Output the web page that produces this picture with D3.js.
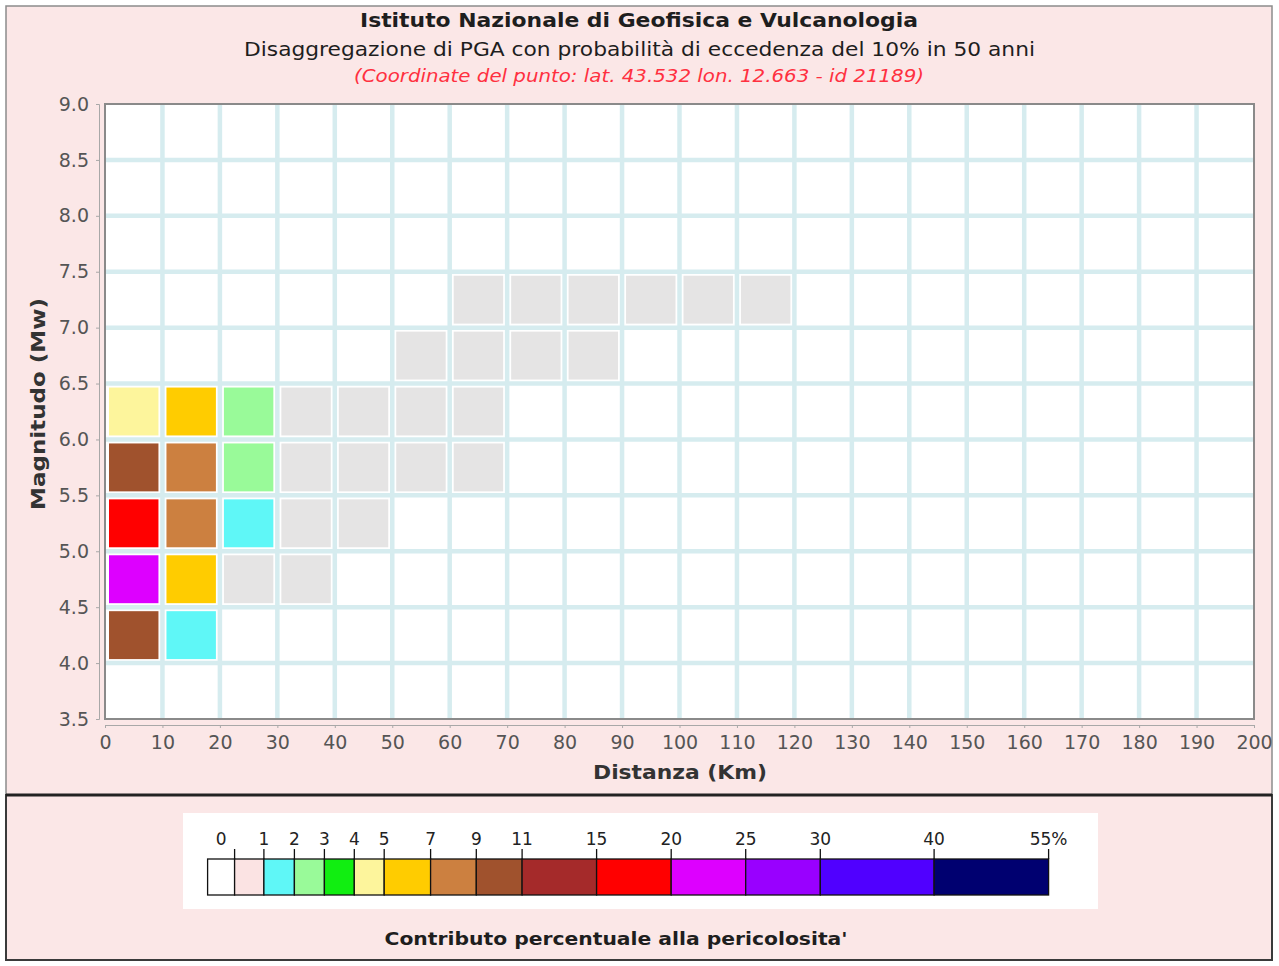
<!DOCTYPE html>
<html>
<head>
<meta charset="utf-8">
<script src="https://cdn.jsdelivr.net/npm/d3@7"></script>
<style>
  html, body { margin: 0; padding: 0; background: #ffffff; }
  svg { display: block; }
  text { font-family: "DejaVu Sans", sans-serif; }
</style>
</head>
<body>
<div id="chart"></div>
<script>
// Distance bins (lower edge, km) and magnitude bins (lower edge, Mw)
const distBins = [0, 10, 20, 30, 40, 50, 60, 70, 80, 90, 100, 110, 120, 130, 140, 150, 160, 170, 180, 190];
const magBins = [3.5, 4.0, 4.5, 5.0, 5.5, 6.0, 6.5, 7.0, 7.5, 8.0, 8.5];

// Percentage contribution to hazard, one row per magnitude bin, one value per distance bin
const contributions = [
  [0, 0, 0, 0, 0, 0, 0, 0, 0, 0, 0, 0, 0, 0, 0, 0, 0, 0, 0, 0],            // 3.5-4.0
  [9.4, 1.3, 0, 0, 0, 0, 0, 0, 0, 0, 0, 0, 0, 0, 0, 0, 0, 0, 0, 0],        // 4.0-4.5
  [21.0, 5.6, 0.6, 0.3, 0, 0, 0, 0, 0, 0, 0, 0, 0, 0, 0, 0, 0, 0, 0, 0],   // 4.5-5.0
  [16.0, 7.6, 1.3, 0.5, 0.3, 0, 0, 0, 0, 0, 0, 0, 0, 0, 0, 0, 0, 0, 0, 0], // 5.0-5.5
  [9.6, 7.3, 2.4, 0.7, 0.5, 0.3, 0.2, 0, 0, 0, 0, 0, 0, 0, 0, 0, 0, 0, 0, 0], // 5.5-6.0
  [4.4, 5.3, 2.1, 0.6, 0.5, 0.4, 0.2, 0, 0, 0, 0, 0, 0, 0, 0, 0, 0, 0, 0, 0], // 6.0-6.5
  [0, 0, 0, 0, 0, 0.2, 0.3, 0.2, 0.1, 0, 0, 0, 0, 0, 0, 0, 0, 0, 0, 0],    // 6.5-7.0
  [0, 0, 0, 0, 0, 0, 0.3, 0.3, 0.2, 0.2, 0.1, 0.1, 0, 0, 0, 0, 0, 0, 0, 0], // 7.0-7.5
  [0, 0, 0, 0, 0, 0, 0, 0, 0, 0, 0, 0, 0, 0, 0, 0, 0, 0, 0, 0],            // 7.5-8.0
  [0, 0, 0, 0, 0, 0, 0, 0, 0, 0, 0, 0, 0, 0, 0, 0, 0, 0, 0, 0],            // 8.0-8.5
  [0, 0, 0, 0, 0, 0, 0, 0, 0, 0, 0, 0, 0, 0, 0, 0, 0, 0, 0, 0]             // 8.5-9.0
];

// Axis ticks
const distTicks = [0, 10, 20, 30, 40, 50, 60, 70, 80, 90, 100, 110, 120, 130, 140, 150, 160, 170, 180, 190, 200];
const magTicks = [3.5, 4.0, 4.5, 5.0, 5.5, 6.0, 6.5, 7.0, 7.5, 8.0, 8.5, 9.0];

// Colour classes (upper bounds in %) and their colours
const classThresholds = [1, 2, 3, 4, 5, 7, 9, 11, 15, 20, 25, 30, 40];
const legendLabels = ["0", "1", "2", "3", "4", "5", "7", "9", "11", "15", "20", "25", "30", "40", "55%"];
const legendColors = ["#ffffff", "#fbe3e3", "#5ff7f7", "#99fa99", "#11ee11", "#fdf59c", "#ffcc00",
                      "#cc8040", "#a0522d", "#a52a2a", "#ff0000", "#dd00ff", "#9900ff", "#5000ff", "#000070"];
const lowCellColor = "#e5e4e4";

// Titles
const title = "Istituto Nazionale di Geofisica e Vulcanologia";
const subtitle = "Disaggregazione di PGA con probabilità di eccedenza del 10% in 50 anni";
const pointLine = "(Coordinate del punto: lat. 43.532 lon. 12.663 - id 21189)";
const xTitle = "Distanza (Km)";
const yTitle = "Magnitudo (Mw)";
const legendTitle = "Contributo percentuale alla pericolosita'";

const W = 1279, H = 966;
const svg = d3.select("#chart").append("svg").attr("width", W).attr("height", H);

// Page panels
svg.append("rect").attr("width", W).attr("height", H).attr("fill", "#ffffff");
svg.append("rect").attr("x", 6).attr("y", 6).attr("width", 1266).attr("height", 789)
  .attr("fill", "#fbe7e7").attr("stroke", "#8c8c8c").attr("stroke-width", 1.5);
svg.append("rect").attr("x", 6).attr("y", 795).attr("width", 1266).attr("height", 165)
  .attr("fill", "#fbe7e7").attr("stroke", "#3a3a3a").attr("stroke-width", 2);
svg.append("line").attr("x1", 6).attr("x2", 1272).attr("y1", 795).attr("y2", 795)
  .attr("stroke", "#222").attr("stroke-width", 3);

// Titles
function fitText(sel, len) {
  sel.attr("textLength", len).attr("lengthAdjust", "spacingAndGlyphs");
}
svg.append("text").attr("x", 639).attr("y", 27).attr("text-anchor", "middle")
  .attr("font-size", 20).attr("font-weight", "bold").attr("fill", "#1e1e1e").text(title).call(fitText, 558);
svg.append("text").attr("x", 639.5).attr("y", 56).attr("text-anchor", "middle")
  .attr("font-size", 20).attr("fill", "#1e1e1e").text(subtitle).call(fitText, 791);
svg.append("text").attr("x", 639).attr("y", 82).attr("text-anchor", "middle")
  .attr("font-size", 18).attr("font-style", "italic").attr("fill", "#ff3040").text(pointLine).call(fitText, 570);

// Scales
const x = d3.scaleLinear().domain([0, 200]).range([105, 1254]);
const y = d3.scaleLinear().domain([3.5, 9.0]).range([719, 104]);

const color = d3.scaleThreshold().domain(classThresholds)
  .range([lowCellColor].concat(legendColors.slice(2)));

// Plot background
svg.append("rect").attr("x", x(0)).attr("y", y(9)).attr("width", x(200) - x(0)).attr("height", y(3.5) - y(9))
  .attr("fill", "#ffffff");

// Grid lines at bin edges
const grid = svg.append("g").attr("stroke", "#d6ecef").attr("stroke-width", 4.5);
grid.selectAll("line.v").data(distTicks.slice(1, -1)).join("line").attr("class", "v")
  .attr("x1", d => x(d)).attr("x2", d => x(d)).attr("y1", y(9)).attr("y2", y(3.5));
grid.selectAll("line.h").data(magTicks.slice(1, -1)).join("line").attr("class", "h")
  .attr("y1", d => y(d)).attr("y2", d => y(d)).attr("x1", x(0)).attr("x2", x(200));

// Cells
const cells = [];
contributions.forEach((row, i) => row.forEach((v, j) => {
  if (v > 0) cells.push({ m: magBins[i], d: distBins[j], v });
}));
const inset = 4;
svg.append("g").selectAll("rect").data(cells).join("rect")
  .attr("x", c => x(c.d) + inset)
  .attr("width", c => x(c.d + 10) - x(c.d) - 2 * inset)
  .attr("y", c => y(c.m + 0.5) + inset)
  .attr("height", c => y(c.m) - y(c.m + 0.5) - 2 * inset)
  .attr("fill", c => color(c.v));

// Plot frame
svg.append("rect").attr("x", x(0)).attr("y", y(9)).attr("width", x(200) - x(0)).attr("height", y(3.5) - y(9))
  .attr("fill", "none").attr("stroke", "#8a8a8a").attr("stroke-width", 2);

// Axes
const xAxis = svg.append("g").attr("transform", "translate(0,725)")
  .call(d3.axisBottom(x).tickValues(distTicks).tickFormat(d3.format("d")).tickSize(3).tickPadding(8));
const yAxis = svg.append("g").attr("transform", "translate(99,0)")
  .call(d3.axisLeft(y).tickValues(magTicks).tickFormat(d3.format(".1f")).tickSize(3).tickPadding(7));
[xAxis, yAxis].forEach(a => {
  a.select(".domain").attr("stroke", "#a8a8a8");
  a.selectAll(".tick line").attr("stroke", "#a8a8a8");
  a.selectAll(".tick text").attr("font-family", "DejaVu Sans").attr("font-size", 19).attr("fill", "#555");
});

// Axis titles
svg.append("text").attr("x", 680).attr("y", 779).attr("text-anchor", "middle")
  .attr("font-size", 20).attr("font-weight", "bold").attr("fill", "#333").text(xTitle).call(fitText, 174);
svg.append("text").attr("transform", "translate(45,404) rotate(-90)").attr("text-anchor", "middle")
  .attr("font-size", 20).attr("font-weight", "bold").attr("fill", "#333").text(yTitle).call(fitText, 212);

// Legend
const legendEdges = [207.6, 234.6, 263.9, 294.4, 324.4, 354.3, 384.2, 430.6, 476.3, 522.1, 596.6, 671.2, 745.7, 820.3, 934.1, 1048.6];
svg.append("rect").attr("x", 183).attr("y", 813).attr("width", 915).attr("height", 96).attr("fill", "#ffffff");
const lg = svg.append("g");
lg.selectAll("rect").data(legendColors).join("rect")
  .attr("x", (c, i) => legendEdges[i]).attr("width", (c, i) => legendEdges[i + 1] - legendEdges[i])
  .attr("y", 859).attr("height", 36)
  .attr("fill", c => c).attr("stroke", "#111").attr("stroke-width", 1.3);
lg.selectAll("line").data(legendEdges.slice(1)).join("line")
  .attr("x1", d => d).attr("x2", d => d).attr("y1", 849).attr("y2", 859)
  .attr("stroke", "#111").attr("stroke-width", 1.3);
lg.selectAll("text").data(legendLabels).join("text")
  .attr("x", (t, i) => i === 0 ? (legendEdges[0] + legendEdges[1]) / 2 : legendEdges[i + 1])
  .attr("y", 845).attr("text-anchor", "middle")
  .attr("font-size", 17).attr("fill", "#222").text(t => t);

svg.append("text").attr("x", 616).attr("y", 945).attr("text-anchor", "middle")
  .attr("font-size", 18).attr("font-weight", "bold").attr("fill", "#1e1e1e").text(legendTitle).call(fitText, 463);
</script>
</body>
</html>
